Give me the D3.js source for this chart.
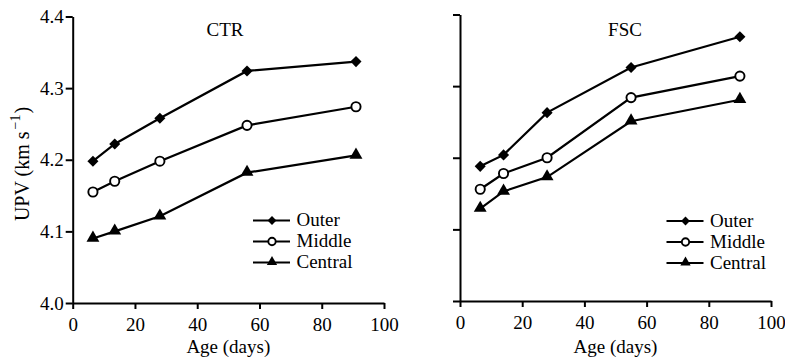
<!DOCTYPE html>
<html>
<head>
<meta charset="utf-8">
<script src="https://cdn.jsdelivr.net/npm/d3@7"></script>
<style>
	body { margin: 0; background: #fff; }
	.axis path, .axis line { stroke: #000; stroke-width: 2px; }
</style>
</head>
<body>
<div id="chart"></div>
<script>
// Data
const seriesNames = ['Outer', 'Middle', 'Central']
const ctrAge = [6.5, 13.5, 28, 56, 91]
const ctrOuter = [4.198, 4.222, 4.258, 4.324, 4.337]
const ctrMiddle = [4.155, 4.170, 4.198, 4.248, 4.274]
const ctrCentral = [4.090, 4.100, 4.121, 4.182, 4.206]
const fscAge = [6.5, 14, 28, 55, 90]
const fscOuter = [4.188, 4.204, 4.263, 4.326, 4.369]
const fscMiddle = [4.156, 4.178, 4.200, 4.284, 4.314]
const fscCentral = [4.129, 4.153, 4.173, 4.251, 4.281]
const xTicks = [0, 20, 40, 60, 80, 100]
const yTicks = [4.0, 4.1, 4.2, 4.3, 4.4]

const FONT = "'Liberation Serif', 'Times New Roman', serif"

const panels = [
	{ title: 'CTR', age: ctrAge, values: [ctrOuter, ctrMiddle, ctrCentral],
		x: [72.7, 384], y: [303, 16.5], yLabels: true, legend: [253, 220.5], titleX: 225 },
	{ title: 'FSC', age: fscAge, values: [fscOuter, fscMiddle, fscCentral],
		x: [460, 771], y: [301, 14.5], yLabels: false, legend: [666.5, 221], titleX: 625 }
]

const svg = d3.select('#chart')
	.append('svg')
	.attr('width', 785)
	.attr('height', 364)

function addText(parent, str) {
	return parent.append('text')
		.style('font-family', FONT)
		.style('font-size', '19px')
		.style('fill', '#000')
		.text(str)
}

function drawMarker(g, i, x, y, k) {
	if (i === 1) {
		g.append('circle')
			.attr('cx', x).attr('cy', y).attr('r', 4.6 * k)
			.attr('fill', '#fff').attr('stroke', '#000').attr('stroke-width', 1.9)
	} else {
		const type = i === 0 ? d3.symbolDiamond2 : d3.symbolTriangle
		const size = i === 0 ? 78 : 72
		g.append('path')
			.attr('d', d3.symbol().type(type).size(size * k * k)())
			.attr('transform', `translate(${x},${y - (i === 2 ? 0.5 : 0)})`)
			.attr('fill', '#000')
	}
}

panels.forEach(p => {
	const x = d3.scaleLinear().domain([0, 100]).range(p.x)
	const y = d3.scaleLinear().domain([4.0, 4.4]).range(p.y)

	const yAxis = d3.axisLeft(y)
		.tickValues(yTicks)
		.tickSize(7)
		.tickSizeOuter(0)
		.tickPadding(2)
		.tickFormat(p.yLabels ? d3.format('.1f') : '')

	const xAxis = d3.axisBottom(x)
		.tickValues(xTicks)
		.tickSize(6)
		.tickSizeOuter(0)
		.tickPadding(9)

	svg.append('g')
		.attr('class', 'axis')
		.attr('transform', `translate(${p.x[0]},0)`)
		.call(yAxis)
		.selectAll('text')
		.style('font-family', FONT)
		.style('font-size', '19px')
		.style('fill', '#000')

	svg.append('g')
		.attr('class', 'axis')
		.attr('transform', `translate(0,${p.y[0]})`)
		.call(xAxis)
		.selectAll('text')
		.style('font-family', FONT)
		.style('font-size', '19px')
		.style('fill', '#000')

	const g = svg.append('g')
	const line = d3.line().x(d => x(d[0])).y(d => y(d[1]))

	p.values.forEach((vals, i) => {
		const pts = p.age.map((a, k) => [a, vals[k]])
		g.append('path')
			.attr('d', line(pts))
			.attr('fill', 'none')
			.attr('stroke', '#000')
			.attr('stroke-width', 2.2)
		pts.forEach(d => drawMarker(g, i, x(d[0]), y(d[1]), 1))
	})

	// Title
	addText(svg, p.title)
		.attr('x', p.titleX)
		.attr('y', 36)
		.attr('text-anchor', 'middle')

	// X label
	addText(svg, 'Age (days)')
		.attr('x', (p.x[0] + p.x[1]) / 2)
		.attr('y', 353)
		.attr('text-anchor', 'middle')

	// Legend
	const [lx, ly] = p.legend
	seriesNames.forEach((name, i) => {
		const row = ly + i * 21
		svg.append('line')
			.attr('x1', lx).attr('x2', lx + 37)
			.attr('y1', row).attr('y2', row)
			.attr('stroke', '#000').attr('stroke-width', 2.2)
		drawMarker(svg, i, lx + 19, row, 0.8)
		addText(svg, name)
			.attr('x', lx + 43.5)
			.attr('y', row + 5.5)
	})
})

// Y label
const yl = addText(svg, null)
	.attr('transform', 'translate(29,164) rotate(-90)')
	.attr('text-anchor', 'middle')
	.style('font-size', '20px')
yl.append('tspan').text('UPV (km s')
yl.append('tspan').attr('dy', -9).attr('dx', 2).style('font-size', '14px').text('\u22121')
yl.append('tspan').attr('dy', 9).attr('dx', 1).text(')')
</script>
</body>
</html>
